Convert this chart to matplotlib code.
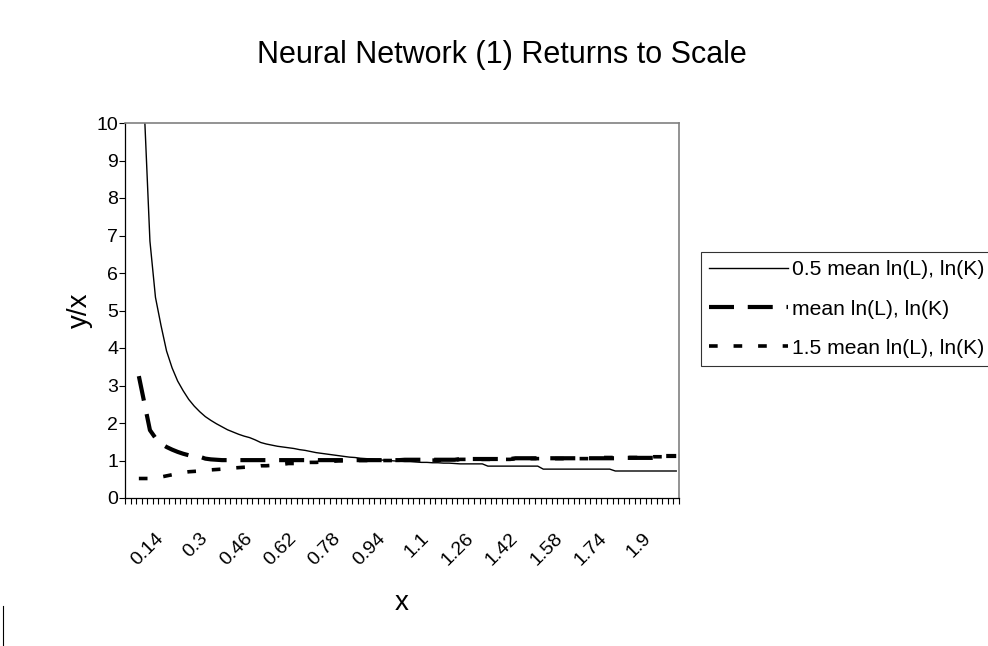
import matplotlib
matplotlib.use("Agg")
import matplotlib.pyplot as plt
from matplotlib.lines import Line2D

plt.rcParams['font.family'] = ['Liberation Sans', 'DejaVu Sans']

# x categories (0.02 steps, the first two categories are empty)
x_vals = [0.06, 0.08, 0.10, 0.12, 0.14, 0.16, 0.18, 0.20, 0.22, 0.24,
          0.26, 0.28, 0.30, 0.32, 0.34, 0.36, 0.38, 0.40, 0.42, 0.44,
          0.46, 0.48, 0.50, 0.52, 0.54, 0.56, 0.58, 0.60, 0.62, 0.64,
          0.66, 0.68, 0.70, 0.72, 0.74, 0.76, 0.78, 0.80, 0.82, 0.84,
          0.86, 0.88, 0.90, 0.92, 0.94, 0.96, 0.98, 1.00, 1.02, 1.04,
          1.06, 1.08, 1.10, 1.12, 1.14, 1.16, 1.18, 1.20, 1.22, 1.24,
          1.26, 1.28, 1.30, 1.32, 1.34, 1.36, 1.38, 1.40, 1.42, 1.44,
          1.46, 1.48, 1.50, 1.52, 1.54, 1.56, 1.58, 1.60, 1.62, 1.64,
          1.66, 1.68, 1.70, 1.72, 1.74, 1.76, 1.78, 1.80, 1.82, 1.84,
          1.86, 1.88, 1.90, 1.92, 1.94, 1.96, 1.98, 2.00]

half_mean = [16.0, 10.3, 6.85, 5.35, 4.6, 3.92, 3.47, 3.12, 2.86, 2.63,
             2.45, 2.30, 2.17, 2.07, 1.98, 1.90, 1.82, 1.76, 1.70, 1.65,
             1.61, 1.55, 1.48, 1.44, 1.41, 1.38, 1.36, 1.34, 1.32, 1.29,
             1.27, 1.24, 1.21, 1.19, 1.17, 1.15, 1.13, 1.11, 1.09, 1.08,
             1.06, 1.05, 1.04, 1.02, 1.01, 1.00, 0.99, 0.98, 0.97, 0.97,
             0.96, 0.95, 0.95, 0.94, 0.94, 0.93, 0.93, 0.92, 0.91, 0.91,
             0.91, 0.91, 0.91, 0.85, 0.85, 0.85, 0.85, 0.85, 0.85, 0.85,
             0.85, 0.85, 0.85, 0.77, 0.77, 0.77, 0.77, 0.77, 0.77, 0.77,
             0.77, 0.77, 0.77, 0.77, 0.77, 0.77, 0.72, 0.72, 0.72, 0.72,
             0.72, 0.72, 0.72, 0.72, 0.72, 0.72, 0.72, 0.72]

mean = [3.25, 2.53, 1.81, 1.60, 1.45, 1.36, 1.29, 1.23, 1.18, 1.14,
        1.12, 1.10, 1.05, 1.03, 1.02, 1.01, 1.01, 1.01, 1.01, 1.01,
        1.01, 1.01, 1.01, 1.01, 1.01, 1.01, 1.01, 1.01, 1.01, 1.01,
        1.01, 1.01, 1.01, 1.01, 1.01, 1.01, 1.01, 1.01, 1.01, 1.01,
        1.01, 1.01, 1.01, 1.01, 1.01, 1.01, 1.01, 1.01, 1.02, 1.02,
        1.02, 1.02, 1.02, 1.02, 1.02, 1.02, 1.02, 1.02, 1.04, 1.04,
        1.04, 1.04, 1.04, 1.04, 1.04, 1.04, 1.04, 1.04, 1.06, 1.06,
        1.06, 1.06, 1.06, 1.06, 1.06, 1.06, 1.06, 1.06, 1.06, 1.06,
        1.06, 1.06, 1.06, 1.06, 1.06, 1.06, 1.06, 1.06, 1.07, 1.07,
        1.07, 1.07, 1.07, 1.07, 1.07, 1.12, 1.12, 1.12]

one_half_mean = [0.52, 0.52, 0.52, 0.53, 0.56, 0.59, 0.62, 0.65, 0.68, 0.70,
                 0.71, 0.72, 0.74, 0.75, 0.76, 0.77, 0.79, 0.80, 0.81, 0.82,
                 0.83, 0.84, 0.86, 0.86, 0.87, 0.88, 0.90, 0.92, 0.92, 0.93,
                 0.94, 0.95, 0.95, 0.96, 0.97, 0.98, 0.99, 0.99, 1.00, 1.00,
                 1.00, 1.00, 1.00, 1.00, 1.00, 1.00, 1.00, 1.00, 1.01, 1.01,
                 1.01, 1.01, 1.01, 1.01, 1.01, 1.01, 1.01, 1.01, 1.03, 1.03,
                 1.03, 1.03, 1.03, 1.03, 1.03, 1.03, 1.03, 1.03, 1.05, 1.05,
                 1.05, 1.05, 1.05, 1.05, 1.05, 1.05, 1.05, 1.05, 1.05, 1.05,
                 1.05, 1.05, 1.05, 1.08, 1.08, 1.08, 1.08, 1.08, 1.08, 1.08,
                 1.08, 1.08, 1.08, 1.10, 1.10, 1.10, 1.10, 1.10]

tick_labels = ["0.14", "0.3", "0.46", "0.62", "0.78", "0.94", "1.1",
               "1.26", "1.42", "1.58", "1.74", "1.9"]
series_names = ["0.5 mean ln(L), ln(K)", "mean ln(L), ln(K)",
                "1.5 mean ln(L), ln(K)"]

W, H = 988, 646
fig = plt.figure(figsize=(W / 100, H / 100), dpi=100)
ax = fig.add_axes([125 / W, 1 - 498 / H, 554 / W, 375 / H])

ax.plot(x_vals, half_mean, color="black", lw=1.0, label=series_names[0])
ax.plot(x_vals, mean, color="black", lw=3.0, linestyle=(0, (6, 3.3)),
        dash_capstyle="butt", label=series_names[1])
ax.plot(x_vals, one_half_mean, color="black", lw=2.6, linestyle=(0, (2.4, 4.4)),
        dash_capstyle="butt", label=series_names[2])

ax.set_xlim(0.01, 2.01)
ax.set_ylim(0, 10)
ax.set_yticks(range(0, 11))
ax.tick_params(axis="y", direction="out", length=4, width=0.8,
               labelsize=14, pad=1)

# category boundaries get the tick marks, labels every 8th category
bounds = [0.01 + 0.02 * k for k in range(101)]
ax.set_xticks(bounds, minor=True)
ax.set_xticks([float(t) for t in tick_labels], tick_labels)
ax.tick_params(axis="x", which="minor", direction="out", length=4, width=0.8)
ax.tick_params(axis="x", which="major", length=0, labelsize=14, pad=27)
for lab in ax.get_xticklabels():
    lab.set_rotation(45)
    lab.set_ha("right")
    lab.set_va("center")
    lab.set_rotation_mode("anchor")

for s in ["top", "right"]:
    ax.spines[s].set_color("#808080")
    ax.spines[s].set_linewidth(1.2)
for s in ["left", "bottom"]:
    ax.spines[s].set_color("black")
    ax.spines[s].set_linewidth(0.9)

fig.text(502 / W, 1 - 55 / H, "Neural Network (1) Returns to Scale",
         fontsize=22, ha="center", va="center")
fig.text(80 / W, 1 - 310 / H, "y/x", fontsize=20, rotation=90,
         ha="center", va="center")
fig.text(402 / W, 1 - 603 / H, "x", fontsize=20, ha="center", va="center")

leg = fig.legend(loc="upper left", bbox_to_anchor=(701 / W, 1 - 252 / H),
                 fontsize=15.2, frameon=True, fancybox=False, shadow=False,
                 handlelength=3.7, handletextpad=0.2, borderpad=0.4,
                 labelspacing=0.95, borderaxespad=0)
leg.get_frame().set_edgecolor("black")
leg.get_frame().set_linewidth(0.8)

fig.add_artist(Line2D([2.5 / W, 2.5 / W], [0, 1 - 606 / H],
                      color="black", lw=0.8, transform=fig.transFigure))

fig.savefig("out.png", dpi=100)
